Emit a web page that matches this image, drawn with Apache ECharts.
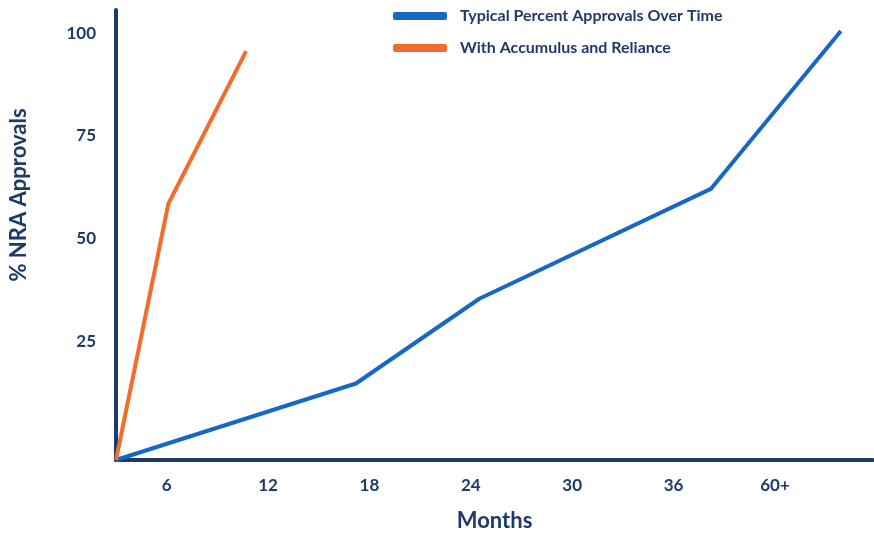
<!DOCTYPE html>
<html>
<head>
<meta charset="utf-8">
<script src="https://cdn.jsdelivr.net/npm/echarts@6/dist/echarts.min.js"></script>
<style>
  html, body { margin: 0; padding: 0; background: #fff; }
  #chart { width: 874px; height: 537px; }
</style>
</head>
<body>
<div id="chart"></div>
<script>
// x values are months; "60+" sits at position 42
const tickValues = [6, 12, 18, 24, 30, 36, 42]
const tickLabels = ['6', '12', '18', '24', '30', '36', '60+']
const yTicks = [25, 50, 75, 100]

const typicalX = [3, 17.2, 24.5, 38.2, 45.9]
const typicalY = [-3.8, 14.8, 35.4, 62.1, 100.5]
const relianceX = [3, 6.1, 10.7]
const relianceY = [-3.8, 58.5, 95.6]

const navy = '#1c3b68'
const font = 'Lato, "Open Sans", sans-serif'

// 1.初始化
const myChart = echarts.init(document.getElementById('chart'))

const toPairs = (xs, ys) => xs.map((x, i) => [x, ys[i]])

// 2.配置
const options = {
  animation: false,
  textStyle: { fontFamily: font },
  legend: {
    orient: 'vertical',
    left: 388,
    top: 3,
    itemWidth: 54,
    itemHeight: 8,
    itemGap: 16,
    icon: 'roundRect',
    textStyle: { color: navy, fontSize: 16, fontWeight: 'bold', fontFamily: font, padding: [0, 0, 0, 8] },
    data: ['Typical Percent Approvals Over Time', 'With Accumulus and Reliance']
  },
  grid: { left: 113, right: 1, top: 10, bottom: 72, containLabel: false },
  xAxis: {
    type: 'value',
    min: 3,
    max: 47.8,
    name: 'Months',
    nameLocation: 'middle',
    nameGap: 50,
    nameTextStyle: { color: navy, fontSize: 22, fontWeight: 'bold', fontFamily: font },
    axisLine: { show: true, onZero: false, lineStyle: { color: navy, width: 4 } },
    axisTick: { show: false },
    splitLine: { show: false },
    axisLabel: {
      customValues: tickValues,
      color: navy,
      fontSize: 17,
      fontWeight: 'bold',
      margin: 17,
      formatter: (v) => tickLabels[tickValues.indexOf(v)] ?? ''
    }
  },
  yAxis: {
    type: 'value',
    min: -3.8,
    max: 105.6,
    name: '% NRA Approvals',
    nameLocation: 'middle',
    nameGap: 86,
    nameTextStyle: { color: navy, fontSize: 22, fontWeight: 'bold', fontFamily: font, padding: [0, 0, 0, 80] },
    axisLine: { show: true, onZero: false, lineStyle: { color: navy, width: 4 } },
    axisTick: { show: false },
    splitLine: { show: false },
    axisLabel: {
      customValues: yTicks,
      color: navy,
      fontSize: 17,
      fontWeight: 'bold',
      margin: 20
    }
  },
  series: [
    {
      name: 'Typical Percent Approvals Over Time',
      type: 'line',
      data: toPairs(typicalX, typicalY),
      showSymbol: false,
      color: '#1767c4',
      lineStyle: { width: 4, color: '#1767c4' }
    },
    {
      name: 'With Accumulus and Reliance',
      type: 'line',
      data: toPairs(relianceX, relianceY),
      showSymbol: false,
      color: '#f36c2c',
      lineStyle: { width: 4, color: '#f36c2c' }
    }
  ]
}

// 3.渲染
myChart.setOption(options)
</script>
</body>
</html>
